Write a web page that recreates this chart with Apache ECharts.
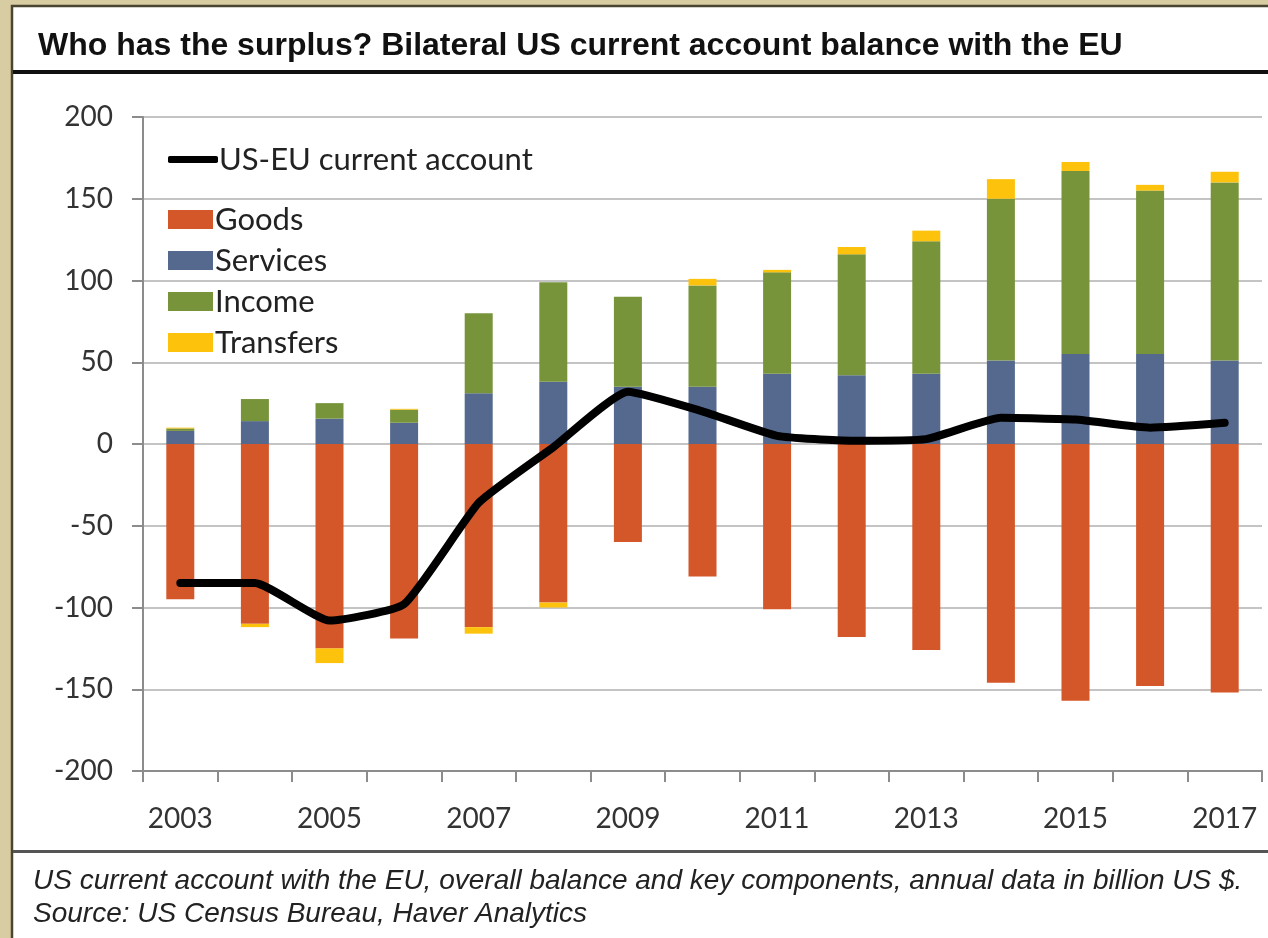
<!DOCTYPE html>
<html>
<head>
<meta charset="utf-8">
<script src="https://cdn.jsdelivr.net/npm/echarts@6/dist/echarts.min.js"></script>
<style>
html,body{margin:0;padding:0;background:#D8CCA2;}
#c{width:1268px;height:938px;}
</style>
</head>
<body>
<div id="c"></div>
<script>
var years = ['2003','2004','2005','2006','2007','2008','2009','2010','2011','2012','2013','2014','2015','2016','2017'];
var goods = [-95, -110, -125, -119, -112, -97, -60, -81, -101, -118, -126, -146, -157, -148, -152];
var services = [8, 14, 15.5, 13, 31, 38, 35, 35, 43, 42, 43, 51, 55, 55, 51];
var income = [1.5, 13.5, 9.5, 8, 49, 61, 55, 62, 62, 74, 81, 99, 112, 100, 109];
var transfers = [0.5, -2, -9, 0.5, -4, -3, 0, 4, 1.5, 4.5, 6.5, 12, 5.5, 3.5, 6.5];
var currentAccount = [-85, -85, -108, -98, -36, -2, 32, 20, 5, 2, 3, 16, 15, 10, 13];
var yTicks = {min: -200, max: 200, step: 50};

var chart = echarts.init(document.getElementById('c'));
var font = 'Lato';
var barW = 28;
function bar(name, data, color) {
  return {name: name, type: 'bar', stack: 'ca', data: data, barWidth: barW,
    itemStyle: {color: color}, emphasis: {disabled: true}, z: 2};
}
chart.setOption({
  backgroundColor: '#D8CCA2',
  animation: false,
  graphic: [
    {type: 'rect', shape: {x: 12, y: 6, width: 1270, height: 950},
     style: {fill: '#ffffff', stroke: '#4A4530', lineWidth: 2.5}, z: -10},
    {type: 'rect', shape: {x: 13, y: 70, width: 1260, height: 4},
     style: {fill: '#111111'}, z: -9},
    {type: 'rect', shape: {x: 13, y: 850, width: 1260, height: 3},
     style: {fill: '#555555'}, z: -9},
    {type: 'text', left: 33, top: 867,
     style: {text: 'US current account with the EU, overall balance and key components, annual data in billion US $.',
       font: 'italic 28px "Liberation Sans"', fill: '#222222'}},
    {type: 'text', left: 33, top: 900,
     style: {text: 'Source: US Census Bureau, Haver Analytics',
       font: 'italic 28px "Liberation Sans"', fill: '#222222'}}
  ],
  title: {
    text: 'Who has the surplus? Bilateral US current account balance with the EU',
    left: 33, top: 25,
    textStyle: {fontFamily: 'Liberation Sans', fontWeight: 'bold', fontSize: 32, color: '#111111'}
  },
  legend: [
    {data: ['US-EU current account'], left: 163, top: 139, icon: 'roundRect',
     itemWidth: 50, itemHeight: 7, itemGap: 0, selectedMode: false,
     textStyle: {fontFamily: font, fontSize: 31, color: '#222', padding: [0,0,0,-4]}},
    {data: ['Goods','Services','Income','Transfers'], orient: 'vertical', left: 163, top: 199,
     icon: 'rect', itemWidth: 45, itemHeight: 19, itemGap: 10, selectedMode: false,
     textStyle: {fontFamily: font, fontSize: 31, color: '#222', lineHeight: 20, padding: [0,0,0,-3]}}
  ],
  grid: {left: 143, right: 6, top: 117, bottom: 167, containLabel: false},
  xAxis: {
    type: 'category', data: years, boundaryGap: true,
    position: 'bottom',
    axisLine: {onZero: false, lineStyle: {color: '#8c8c8c', width: 2}},
    axisTick: {show: true, alignWithLabel: false, interval: 0, length: 11, lineStyle: {color: '#8c8c8c', width: 2}},
    axisLabel: {interval: 1, margin: 34, fontFamily: font, fontSize: 28, color: '#333'}
  },
  yAxis: {
    type: 'value', min: yTicks.min, max: yTicks.max, interval: yTicks.step,
    axisLine: {show: true, lineStyle: {color: '#8c8c8c', width: 2}},
    axisTick: {show: true, inside: false, length: 11, lineStyle: {color: '#8c8c8c', width: 2}},
    splitLine: {show: true, lineStyle: {color: '#c4c4c4', width: 2}},
    axisLabel: {margin: 30, fontFamily: font, fontSize: 28, color: '#333'}
  },
  series: [
    bar('Goods', goods, '#D4572A'),
    bar('Services', services, '#54698D'),
    bar('Income', income, '#77943B'),
    bar('Transfers', transfers, '#FDC20C'),
    {name: 'US-EU current account', type: 'line', data: currentAccount,
     smooth: 0.15, showSymbol: false, symbol: 'none', z: 5,
     lineStyle: {color: '#000000', width: 8, cap: 'round', join: 'round'},
     itemStyle: {color: '#000000'}, emphasis: {disabled: true}}
  ]
});
</script>
</body>
</html>
